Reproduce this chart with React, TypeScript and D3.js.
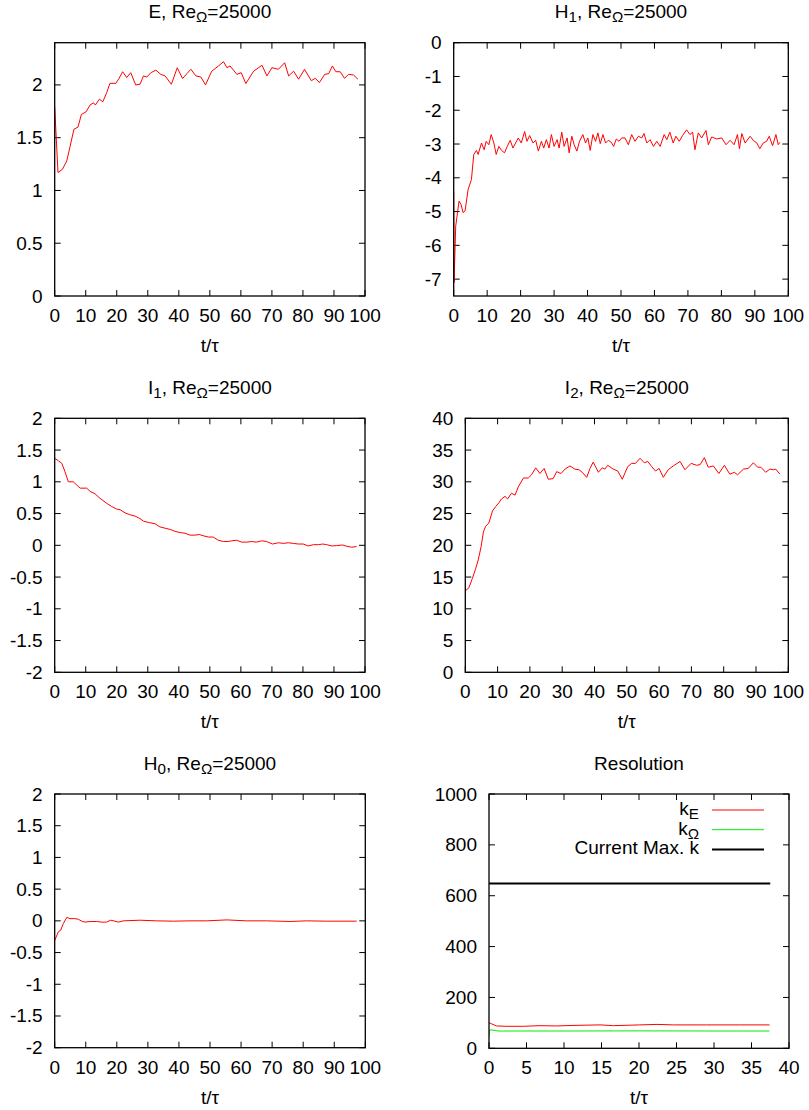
import React from "react";
import * as d3 from "d3";

const FONT = "'Liberation Sans', Arial, Helvetica, sans-serif";
const FS = 19;

type Pt = [number, number];

// ---- data (t/tau, value) ----
const eData: Pt[] = [
  [0, 1.79], [1.06, 1.17], [2.46, 1.2], [3.9, 1.28], [4.9, 1.41], [6.2, 1.58], [7.5, 1.6], [8.6, 1.72],
  [10.1, 1.745], [11.4, 1.81], [12.5, 1.83], [13.1, 1.81], [14.4, 1.865], [15.5, 1.84], [16.8, 1.93],
  [17.8, 2.015], [19.7, 2.015], [20.7, 2.06], [21.9, 2.125], [23.2, 2.07], [24.5, 2.116], [26.1, 2.0],
  [27.5, 2.006], [28.6, 2.085], [29.7, 2.075], [31, 2.116], [32.6, 2.14], [34.2, 2.1], [35.6, 2.085],
  [37.6, 2.006], [39.5, 2.163], [41.2, 2.06], [42.6, 2.107], [43.9, 2.148], [45.5, 2.085], [47.1, 2.075],
  [48.6, 2.0], [50.6, 2.13], [52.8, 2.18], [54.4, 2.22], [55.5, 2.163], [56.5, 2.18], [58.7, 2.1],
  [60.1, 2.116], [61.6, 2.013], [64.1, 2.13], [66.8, 2.186], [68.4, 2.085], [70, 2.163], [72.1, 2.148],
  [74.1, 2.21], [75.4, 2.085], [77, 2.13], [78.6, 2.054], [80.5, 2.148], [82.7, 2.04], [84, 2.063],
  [85.3, 2.022], [87, 2.1], [88.3, 2.107], [89.5, 2.18], [90.6, 2.125], [92, 2.125], [93.4, 2.063],
  [94.7, 2.1], [96.3, 2.094], [97.7, 2.054],
];

const h1Data: Pt[] = [
  [0, -4.4], [0.1, -7.1], [0.6, -5.43], [1.6, -4.69], [2.2, -4.79], [2.8, -5.03], [3.4, -4.98], [4.3, -4.35],
  [5.3, -4.05], [6.0, -3.31], [6.8, -3.19], [7.3, -3.31], [8.3, -2.97], [9.1, -3.17], [9.7, -2.92],
  [10.5, -3.02], [11.2, -2.72], [12, -2.97], [12.7, -3.31], [13.5, -3.07], [14.3, -3.19], [15.2, -3.26],
  [16, -3.07], [16.9, -2.89], [17.7, -3.12], [18.5, -2.97], [19.3, -2.82], [20.2, -2.97], [21.2, -2.63],
  [21.9, -2.92], [22.7, -2.75], [23.7, -2.97], [24.5, -2.89], [25.3, -3.21], [26.2, -2.92], [26.9, -3.12],
  [27.7, -2.87], [28.5, -3.12], [29.2, -2.72], [30, -3.07], [30.9, -2.87], [31.5, -3.12], [32.3, -2.65],
  [33, -3.07], [33.9, -2.82], [34.5, -3.26], [35.3, -2.77], [36, -3.02], [36.8, -3.21], [37.6, -2.92],
  [38.6, -2.72], [39.4, -2.97], [40.1, -2.82], [40.8, -3.19], [41.6, -2.72], [42.4, -2.92], [43.1, -2.67],
  [43.8, -2.99], [44.6, -2.72], [45.4, -2.97], [46.2, -2.89], [47.1, -2.95], [47.8, -3.07], [48.6, -2.85],
  [49.4, -2.92], [50.2, -2.82], [51.2, -2.82], [52.2, -3.02], [53.2, -2.72], [54.2, -2.92], [55.2, -2.77],
  [56.2, -2.82], [56.9, -2.69], [57.7, -2.97], [58.7, -2.87], [59.7, -3.07], [60.7, -2.92], [61.7, -3.07],
  [62.9, -2.72], [63.7, -2.87], [64.6, -2.65], [65.6, -2.97], [66.4, -2.77], [67.4, -2.92], [68.4, -2.75],
  [69.6, -2.58], [70.6, -2.72], [71.4, -2.65], [72.1, -3.17], [73.1, -2.67], [74.1, -2.82], [75.4, -2.6],
  [76.1, -3.02], [77.1, -2.79], [78.6, -2.85], [80.1, -2.82], [81.4, -3.02], [82.6, -2.89], [83.8, -3.02],
  [84.8, -2.72], [85.4, -3.14], [86.1, -2.69], [87.1, -2.97], [88.6, -2.77], [89.5, -2.89], [90.6, -2.97],
  [91.5, -3.14], [92.5, -2.97], [93.5, -2.92], [94.3, -2.77], [95.3, -3.05], [96.3, -2.72], [97, -3.02],
  [97.5, -2.95],
];

const i1Data: Pt[] = [
  [0, 1.37], [1.2, 1.33], [2.3, 1.29], [3.3, 1.16], [4.4, 1.0], [6.0, 1.0], [7.1, 0.95], [8.2, 0.9],
  [10.3, 0.9], [11.4, 0.85], [13, 0.81], [14.6, 0.74], [16.8, 0.66], [18.4, 0.61], [20, 0.57], [21.1, 0.56],
  [22.7, 0.51], [24.3, 0.48], [25.9, 0.46], [27.5, 0.42], [28.6, 0.38], [30.2, 0.36], [32.3, 0.34],
  [33.9, 0.29], [35.5, 0.27], [37.2, 0.25], [38.8, 0.22], [40.4, 0.2], [42, 0.19], [43.6, 0.16],
  [45.2, 0.16], [46.6, 0.17], [47.9, 0.15], [49.5, 0.13], [51.1, 0.13], [52.7, 0.08], [54.4, 0.06],
  [56, 0.06], [57, 0.07], [58.6, 0.08], [60.3, 0.05], [61.9, 0.05], [63.5, 0.06], [64.9, 0.05],
  [66.7, 0.07], [68.3, 0.06], [70.2, 0.02], [72.1, 0.04], [73.7, 0.03], [75.3, 0.04], [76.9, 0.03],
  [78.5, 0.02], [80.1, 0.02], [81.7, -0.01], [83.4, 0.01], [85, 0.01], [86.4, 0.02], [87.6, 0.01],
  [89.3, -0.01], [90.9, -0.005], [92.8, 0.005], [94.1, -0.015], [95.7, -0.03], [97.3, -0.02],
];

const i2Data: Pt[] = [
  [0, 7.2], [0.05, 12.86], [1.1, 13.3], [2.2, 14.8], [3.2, 16.3], [4.0, 17.7], [4.9, 19.8], [5.6, 22.1],
  [6.3, 23.0], [7.3, 23.5], [8.4, 25.4], [9.4, 26.1], [10.4, 26.7], [11.2, 27.3], [12.3, 27.7], [13.1, 27.3],
  [14.3, 28.2], [15.4, 27.9], [16.4, 29.2], [18, 30.6], [19.5, 30.6], [20.5, 31.1], [21.8, 32.2], [23.1, 31.3],
  [24.4, 32.1], [25.7, 30.4], [27.2, 30.5], [28.3, 31.6], [29.6, 31.3], [30.9, 32.0], [32.4, 32.5],
  [33.9, 32.0], [35.2, 31.9], [36.2, 31.5], [37.6, 30.7], [38.6, 32.1], [39.6, 33.1], [41.2, 31.5],
  [42.4, 32.2], [43.2, 32.0], [44.1, 32.6], [45.8, 32.0], [47.2, 31.7], [48.6, 30.4], [50.3, 32.4],
  [51.5, 32.9], [52.7, 32.9], [54.1, 33.7], [55.4, 33.0], [56.5, 33.2], [57.7, 32.4], [58.9, 31.7],
  [60, 32.1], [61.3, 30.7], [62.8, 31.9], [64.4, 32.5], [66.5, 33.2], [68, 31.9], [69.9, 32.9],
  [71.6, 32.6], [72.7, 32.7], [74, 33.8], [75.2, 32.3], [76.8, 32.5], [78.5, 31.3], [80.2, 32.6],
  [81.9, 31.2], [83.3, 31.5], [84.3, 31.1], [86.1, 32.0], [87.6, 32.1], [89.2, 33.0], [90.5, 32.3],
  [91.5, 32.3], [93, 31.5], [94.3, 32.0], [95.4, 31.9], [96.1, 32.0], [97.4, 31.2],
];

const h0Data: Pt[] = [
  [0, -0.31], [0.6, -0.24], [1.2, -0.17], [1.9, -0.15], [2.8, -0.04], [3.9, 0.055], [4.9, 0.035],
  [6.5, 0.035], [7.6, 0.025], [8.7, -0.005], [9.8, -0.02], [11.4, -0.01], [13.5, -0.01], [15.1, -0.02],
  [16.7, -0.02], [18, 0.01], [19.4, -0.005], [20.5, -0.02], [22.1, 0.0], [27.5, 0.01], [32.8, 0.0],
  [38.2, -0.005], [43.6, 0.0], [48.9, 0.0], [55.4, 0.015], [61.8, 0.0], [68.2, 0.0], [75.8, -0.01],
  [81.1, 0.0], [87.6, -0.005], [97.2, -0.005],
];

const kEData: Pt[] = [
  [0, 101], [0.36, 96], [1, 88], [2.4, 86.5], [4.6, 86.5], [6.8, 89], [9, 88], [11.2, 90], [14.8, 92],
  [16.6, 89], [20.1, 92], [22.4, 94], [24.6, 92], [29, 92], [33.5, 92], [37.4, 92],
];
const kOmegaData: Pt[] = [
  [0, 45], [0.05, 72], [0.4, 72], [1.2, 68], [10, 68], [20, 68.5], [30, 68], [37.4, 68],
];
const kMaxData: Pt[] = [[0, 648], [37.5, 648]];

const xTicks100 = [0, 10, 20, 30, 40, 50, 60, 70, 80, 90, 100];
const xTicks40 = [0, 5, 10, 15, 20, 25, 30, 35, 40];
const yTicksE = [0, 0.5, 1, 1.5, 2];
const yTicksH1 = [-7, -6, -5, -4, -3, -2, -1, 0];
const yTicksI = [-2, -1.5, -1, -0.5, 0, 0.5, 1, 1.5, 2];
const yTicksI2 = [0, 5, 10, 15, 20, 25, 30, 35, 40];
const yTicksK = [0, 200, 400, 600, 800, 1000];

type Series = { data: Pt[]; color: string; width: number; label?: React.ReactNode };
type Box = { l: number; r: number; t: number; b: number };

const SUB_DY = 4;

function Sub({ base, sub }: { base: string; sub: string }) {
  return (
    <>
      {base}
      <tspan dy={SUB_DY} fontSize={FS * 0.8}>{sub}</tspan>
    </>
  );
}

function Panel(props: {
  id: string;
  box: Box;
  xDomain: [number, number];
  yDomain: [number, number];
  xTicks: number[];
  yTicks: number[];
  title: React.ReactNode;
  series: Series[];
  legend?: boolean;
}) {
  const { id, box, xDomain, yDomain, xTicks, yTicks, title, series, legend } = props;
  const x = d3.scaleLinear().domain(xDomain).range([box.l, box.r]);
  const y = d3.scaleLinear().domain(yDomain).range([box.b, box.t]);
  const line = d3.line<Pt>().x((d) => x(d[0])).y((d) => y(d[1]));
  const tl = 6;
  const cx = (box.l + box.r) / 2;
  const clipId = "clip-" + id;
  return (
    <g>
      <defs>
        <clipPath id={clipId}>
          <rect x={box.l} y={box.t} width={box.r - box.l} height={box.b - box.t} />
        </clipPath>
      </defs>
      <text x={cx} y={box.t - 24.5} textAnchor="middle" fontSize={FS} fontFamily={FONT} fill="#000">
        {title}
      </text>
      {xTicks.map((t) => (
        <g key={"xt" + t}>
          <line x1={x(t)} x2={x(t)} y1={box.b} y2={box.b - tl} stroke="#000" strokeWidth={1} />
          <line x1={x(t)} x2={x(t)} y1={box.t} y2={box.t + tl} stroke="#000" strokeWidth={1} />
          <text x={x(t)} y={box.b + 26} textAnchor="middle" fontSize={FS} fontFamily={FONT} fill="#000">
            {String(t)}
          </text>
        </g>
      ))}
      {yTicks.map((v) => (
        <g key={"yt" + v}>
          <line x1={box.l} x2={box.l + tl} y1={y(v)} y2={y(v)} stroke="#000" strokeWidth={1} />
          <line x1={box.r} x2={box.r - tl} y1={y(v)} y2={y(v)} stroke="#000" strokeWidth={1} />
          <text x={box.l - 12} y={y(v) + 6.5} textAnchor="end" fontSize={FS} fontFamily={FONT} fill="#000">
            {String(v)}
          </text>
        </g>
      ))}
      <text x={cx} y={box.b + 56} textAnchor="middle" fontSize={FS} fontFamily={FONT} fill="#000">
        t/τ
      </text>
      <g clipPath={`url(#${clipId})`}>
        {series.map((s, i) => (
          <path key={i} d={line(s.data) || ""} fill="none" stroke={s.color} strokeWidth={s.width} strokeLinejoin="round" />
        ))}
      </g>
      {legend &&
        series.map((s, i) => {
          const ly = box.t + 16 + i * 19.7;
          return (
            <g key={"lg" + i}>
              <text x={box.r - 90} y={ly + 5} textAnchor="end" fontSize={FS} fontFamily={FONT} fill="#000">
                {s.label}
              </text>
              <line x1={box.r - 77} x2={box.r - 25} y1={ly} y2={ly} stroke={s.color} strokeWidth={s.width} />
            </g>
          );
        })}
      <rect x={box.l} y={box.t} width={box.r - box.l} height={box.b - box.t} fill="none" stroke="#000" strokeWidth={1.3} />
    </g>
  );
}

export default function App() {
  const reTitle = (name: string, sub?: string) => (
    <>
      {name}
      {sub !== undefined && <tspan dy={SUB_DY} fontSize={FS * 0.8}>{sub}</tspan>}
      <tspan dy={sub !== undefined ? -SUB_DY : 0}>, Re</tspan>
      <tspan dy={SUB_DY} fontSize={FS * 0.8}>Ω</tspan>
      <tspan dy={-SUB_DY}>=25000</tspan>
    </>
  );
  return (
    <svg
      width={809}
      height={1110}
      viewBox="0 0 809 1110"
      style={{ position: "absolute", left: 0, top: 0, display: "block", background: "#fff" }}
    >
      <rect x={0} y={0} width={809} height={1110} fill="#fff" />
      <Panel
        id="e"
        box={{ l: 54.7, r: 365, t: 42.7, b: 296 }}
        xDomain={[0, 100]}
        yDomain={[0, 2.4]}
        xTicks={xTicks100}
        yTicks={yTicksE}
        title={reTitle("E")}
        series={[{ data: eData, color: "#ff0000", width: 1 }]}
      />
      <Panel
        id="h1"
        box={{ l: 453.7, r: 788.3, t: 42.7, b: 296 }}
        xDomain={[0, 100]}
        yDomain={[-7.5, 0]}
        xTicks={xTicks100}
        yTicks={yTicksH1}
        title={reTitle("H", "1")}
        series={[{ data: h1Data, color: "#ff0000", width: 1 }]}
      />
      <Panel
        id="i1"
        box={{ l: 54.7, r: 365, t: 418.3, b: 672.3 }}
        xDomain={[0, 100]}
        yDomain={[-2, 2]}
        xTicks={xTicks100}
        yTicks={yTicksI}
        title={reTitle("I", "1")}
        series={[{ data: i1Data, color: "#ff0000", width: 1 }]}
      />
      <Panel
        id="i2"
        box={{ l: 465.3, r: 788.3, t: 418.3, b: 672.3 }}
        xDomain={[0, 100]}
        yDomain={[0, 40]}
        xTicks={xTicks100}
        yTicks={yTicksI2}
        title={reTitle("I", "2")}
        series={[{ data: i2Data, color: "#ff0000", width: 1 }]}
      />
      <Panel
        id="h0"
        box={{ l: 54.7, r: 365.3, t: 794, b: 1047.7 }}
        xDomain={[0, 100]}
        yDomain={[-2, 2]}
        xTicks={xTicks100}
        yTicks={yTicksI}
        title={reTitle("H", "0")}
        series={[{ data: h0Data, color: "#ff0000", width: 1 }]}
      />
      <Panel
        id="res"
        box={{ l: 489, r: 789, t: 794, b: 1048.3 }}
        xDomain={[0, 40]}
        yDomain={[0, 1000]}
        xTicks={xTicks40}
        yTicks={yTicksK}
        title="Resolution"
        legend
        series={[
          { data: kEData, color: "#ff0000", width: 1, label: <Sub base="k" sub="E" /> },
          { data: kOmegaData, color: "#00ee00", width: 1, label: <Sub base="k" sub="Ω" /> },
          { data: kMaxData, color: "#000000", width: 2, label: "Current Max. k" },
        ]}
      />
    </svg>
  );
}
